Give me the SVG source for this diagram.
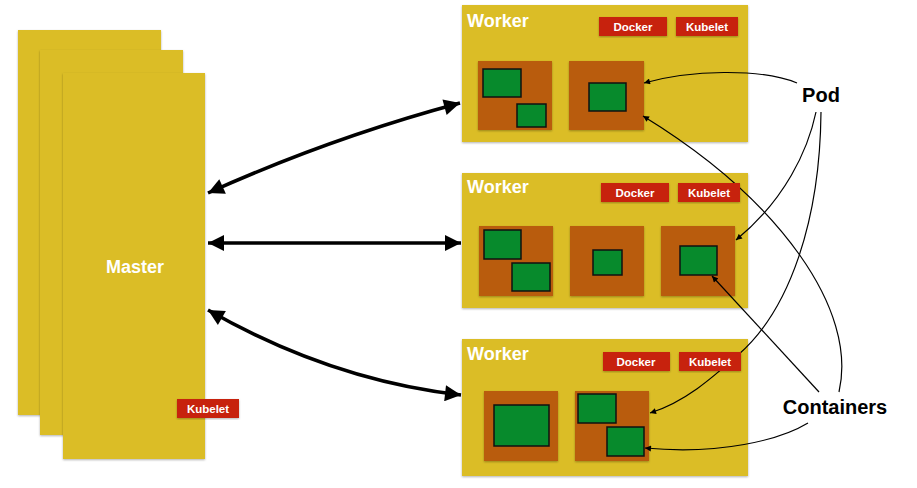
<svg xmlns="http://www.w3.org/2000/svg" width="917" height="488" viewBox="0 0 917 488">
<style>
.y{fill:#DBBD25}
.pod{fill:#B95B0E}
.c{fill:#078A2C;stroke:#111;stroke-width:1.5}
.b{fill:#C72210}
.wt{font-family:"Liberation Sans",Arial,sans-serif;font-weight:bold;fill:#fff;font-size:18px}
.bt{font-family:"Liberation Sans",Arial,sans-serif;font-weight:bold;fill:#fff;font-size:11.5px;text-anchor:middle}
.lt{font-family:"Liberation Sans",Arial,sans-serif;font-weight:bold;fill:#000;font-size:20px;text-anchor:middle}
.thick{fill:none;stroke:#000;stroke-width:3.5}
.thin{fill:none;stroke:#000;stroke-width:1.2}
</style>
<defs>
<filter id="sh" x="-10%" y="-10%" width="120%" height="120%">
<feDropShadow dx="0" dy="1" stdDeviation="1.2" flood-color="#000" flood-opacity="0.3"/>
</filter>
<marker id="big" viewBox="0 0 10 10" refX="10" refY="5" markerWidth="19" markerHeight="16" markerUnits="userSpaceOnUse" orient="auto-start-reverse">
<path d="M0,0 L10,5 L0,10 Z" fill="#000"/>
</marker>
<marker id="sm" viewBox="0 0 10 10" refX="10" refY="5" markerWidth="7" markerHeight="6" markerUnits="userSpaceOnUse" orient="auto">
<path d="M0,0 L10,5 L0,10 Z" fill="#000"/>
</marker>
</defs>
<rect width="917" height="488" fill="#fff"/>

<g id="master">
<rect class="y" x="18" y="30" width="143" height="385" filter="url(#sh)"/>
<rect class="y" x="40" y="50" width="143" height="385" filter="url(#sh)"/>
<rect class="y" x="63" y="73" width="142" height="386" filter="url(#sh)"/>
<text class="wt" x="135" y="273" text-anchor="middle">Master</text>
</g>

<g id="worker1">
<rect class="y" x="462" y="5" width="286" height="137" filter="url(#sh)"/>
<text class="wt" x="467" y="27">Worker</text>
<rect class="pod" x="478" y="61" width="74" height="69" filter="url(#sh)"/>
<rect class="c" x="483" y="69" width="38" height="28"/>
<rect class="c" x="517" y="104" width="29" height="23"/>
<rect class="pod" x="569" y="61" width="75" height="69" filter="url(#sh)"/>
<rect class="c" x="589" y="83" width="37" height="28"/>
</g>

<g id="worker2">
<rect class="y" x="462" y="173" width="286" height="135" filter="url(#sh)"/>
<text class="wt" x="467" y="193">Worker</text>
<rect class="pod" x="479" y="226" width="74" height="70" filter="url(#sh)"/>
<rect class="c" x="484" y="230" width="37" height="29"/>
<rect class="c" x="512" y="263" width="38" height="28"/>
<rect class="pod" x="570" y="226" width="74" height="70" filter="url(#sh)"/>
<rect class="c" x="593" y="250" width="29" height="25"/>
<rect class="pod" x="661" y="226" width="74" height="70" filter="url(#sh)"/>
<rect class="c" x="680" y="246" width="37" height="29"/>
</g>

<g id="worker3">
<rect class="y" x="462" y="339" width="286" height="137" filter="url(#sh)"/>
<text class="wt" x="467" y="360">Worker</text>
<rect class="pod" x="484" y="391" width="74" height="70" filter="url(#sh)"/>
<rect class="c" x="494" y="405" width="55" height="41"/>
<rect class="pod" x="575" y="391" width="74" height="70" filter="url(#sh)"/>
<rect class="c" x="578" y="394" width="38" height="29"/>
<rect class="c" x="607" y="427" width="37" height="29"/>
</g>

<g id="connectors">
<path class="thick" d="M208,193 Q330,138 460,103" marker-start="url(#big)" marker-end="url(#big)"/>
<path class="thick" d="M208,243 L461,243" marker-start="url(#big)" marker-end="url(#big)"/>
<path class="thick" d="M208,310 Q330,380 461,395" marker-start="url(#big)" marker-end="url(#big)"/>
<path class="thin" d="M797,83 C760,68 690,70 644,83" marker-end="url(#sm)"/>
<path class="thin" d="M816,112 C808,150 785,200 736,240" marker-end="url(#sm)"/>
<path class="thin" d="M821,112 C820,220 790,310 738,355 C712,378 685,402 650,413" marker-end="url(#sm)"/>
<path class="thin" d="M839,392 C858,310 780,200 643,116" marker-end="url(#sm)"/>
<path class="thin" d="M819,392 L712,276" marker-end="url(#sm)"/>
<path class="thin" d="M808,423 C780,440 720,455 645,448" marker-end="url(#sm)"/>
</g>

<g id="master-kubelet">
<rect class="b" x="177" y="399" width="62" height="19" filter="url(#sh)"/>
<text class="bt" x="208" y="413">Kubelet</text>
</g>
<g id="w1-docker">
<rect class="b" x="599" y="17" width="68" height="19" filter="url(#sh)"/>
<text class="bt" x="633" y="31">Docker</text>
</g>
<g id="w1-kubelet">
<rect class="b" x="676" y="17" width="62" height="19" filter="url(#sh)"/>
<text class="bt" x="707" y="31">Kubelet</text>
</g>
<g id="w2-docker">
<rect class="b" x="601" y="183" width="68" height="19" filter="url(#sh)"/>
<text class="bt" x="635" y="197">Docker</text>
</g>
<g id="w2-kubelet">
<rect class="b" x="678" y="183" width="62" height="19" filter="url(#sh)"/>
<text class="bt" x="709" y="197">Kubelet</text>
</g>
<g id="w3-docker">
<rect class="b" x="603" y="352" width="67" height="19" filter="url(#sh)"/>
<text class="bt" x="636" y="366">Docker</text>
</g>
<g id="w3-kubelet">
<rect class="b" x="679" y="352" width="62" height="19" filter="url(#sh)"/>
<text class="bt" x="710" y="366">Kubelet</text>
</g>

<g id="label-pod">
<text class="lt" x="821" y="102">Pod</text>
</g>
<g id="label-containers">
<text class="lt" x="835" y="414">Containers</text>
</g>
</svg>
